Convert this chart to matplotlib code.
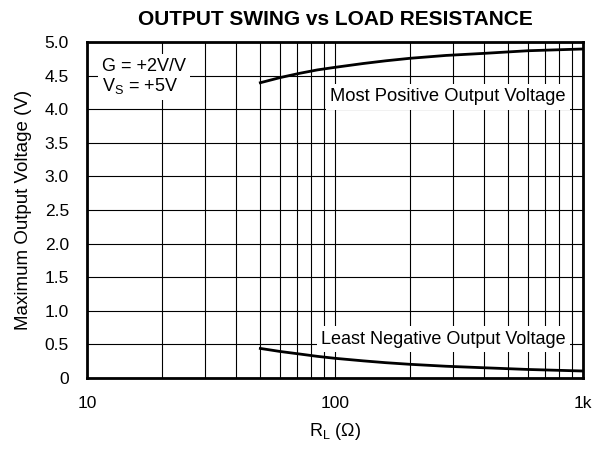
import numpy as np
import matplotlib.pyplot as plt
from matplotlib.ticker import FixedLocator, NullFormatter

plt.rcParams['font.family'] = ['Liberation Sans', 'DejaVu Sans']

# values
rl = [50, 60, 72, 85, 100, 130, 160, 200, 280, 395, 600, 1000]
v_pos = [4.394, 4.47, 4.534, 4.585, 4.623, 4.68, 4.72, 4.757, 4.80, 4.83, 4.87, 4.896]
v_neg = [0.44, 0.395, 0.357, 0.322, 0.293, 0.255, 0.228, 0.204, 0.175, 0.153, 0.127, 0.104]

x_ticks = [10, 100, 1000]
x_ticklabels = ['10', '100', '1k']
y_ticks = [0, 0.5, 1.0, 1.5, 2.0, 2.5, 3.0, 3.5, 4.0, 4.5, 5.0]
y_ticklabels = ['0', '0.5', '1.0', '1.5', '2.0', '2.5', '3.0', '3.5', '4.0', '4.5', '5.0']

fig = plt.figure(figsize=(5.92, 4.49), dpi=100)
ax = fig.add_axes([87/592, 1 - 378/449, (583-87)/592, (378-42)/449])

ax.set_xscale('log')
ax.set_xlim(10, 1000)
ax.set_ylim(0, 5.0)

ax.plot(rl, v_pos, color='black', lw=2.0, zorder=3)
ax.plot(rl, v_neg, color='black', lw=2.0, zorder=3)

minor = [m * d for d in (10, 100) for m in range(2, 10)]
ax.xaxis.set_minor_locator(FixedLocator(minor))
ax.xaxis.set_minor_formatter(NullFormatter())
ax.set_xticks(x_ticks)
ax.set_xticklabels(x_ticklabels)
ax.set_yticks(y_ticks)
ax.set_yticklabels(y_ticklabels)
ax.grid(True, which='both', color='black', lw=0.8)
ax.tick_params(which='both', length=0, labelsize=12.5, pad=13)

for s in ax.spines.values():
    s.set_linewidth(2)

box = dict(facecolor='white', edgecolor='none', pad=3)
ax.text(11.5, 4.27, 'G = +2V/V\n$\\mathregular{V_S}$ = +5V', fontsize=13,
        va='baseline', ha='left', bbox=box, zorder=4, linespacing=1.1)
ax.text(850, 4.115, 'Most Positive Output Voltage', fontsize=13.2,
        va='baseline', ha='right', bbox=box, zorder=4)
ax.text(853, 0.513, 'Least Negative Output Voltage', fontsize=13,
        va='baseline', ha='right', bbox=box, zorder=4)

ax.set_title('OUTPUT SWING vs LOAD RESISTANCE', fontsize=15, fontweight='bold', pad=12)
ax.set_xlabel('$\\mathregular{R_L}$ (Ω)', fontsize=13, labelpad=7)
ax.set_ylabel('Maximum Output Voltage (V)', fontsize=13.5, labelpad=9)

fig.savefig('out.png', dpi=100)
